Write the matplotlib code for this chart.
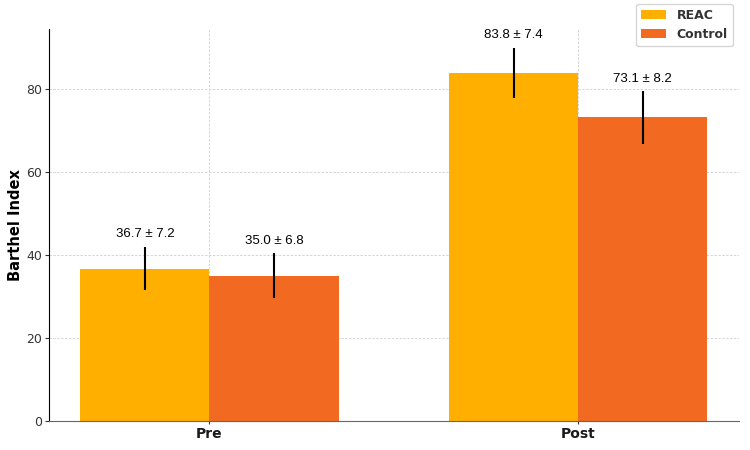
import matplotlib
matplotlib.use("Agg")
from matplotlib import pyplot as plt
import numpy as np

# data
phases = ["Pre", "Post"]
reac_means = [36.7, 83.8]
control_means = [35.0, 73.1]
reac_sd = [7.2, 7.4]
control_sd = [6.8, 8.2]
# drawn error bar half-lengths (as measured on the picture)
reac_err = [5.2, 6.1]
control_err = [5.4, 6.3]

reacColor = "#FFAF00"
controlColor = "#F26A22"

x = np.arange(len(phases))
width = 0.35

fig = plt.figure(figsize=(7.5, 4.5), dpi=100)
ax = fig.add_axes([0.0653, 0.0644, 0.9197, 0.8712])

ax.bar(x - width / 2, reac_means, width, color=reacColor, label="REAC", zorder=2)
ax.bar(x + width / 2, control_means, width, color=controlColor, label="Control", zorder=2)
ax.errorbar(x - width / 2, reac_means, yerr=reac_err, fmt="none", ecolor="black", elinewidth=1.5, zorder=3)
ax.errorbar(x + width / 2, control_means, yerr=control_err, fmt="none", ecolor="black", elinewidth=1.5, zorder=3)

#Value labels above the error bars
for xs, m, sd, e in zip(x - width / 2, reac_means, reac_sd, reac_err):
    ax.text(xs, m + e + 1.6, "{:.1f} ± {:.1f}".format(m, sd), ha="center", va="bottom",
            fontsize=9.5, family="Liberation Sans")
for xs, m, sd, e in zip(x + width / 2, control_means, control_sd, control_err):
    ax.text(xs, m + e + 1.6, "{:.1f} ± {:.1f}".format(m, sd), ha="center", va="bottom",
            fontsize=9.5, family="Liberation Sans")

ax.set_xticks(x)
ax.set_xticklabels(phases, fontsize=10, fontweight="bold")
ax.set_ylabel("Barthel Index", fontsize=10.5, fontweight="bold", labelpad=2)
ax.set_yticks([0, 20, 40, 60, 80])
ax.tick_params(axis="y", labelsize=9, colors="#333333", length=3, pad=2)
ax.tick_params(axis="x", length=2, colors="#333333", pad=2)
for lbl in ax.get_xticklabels():
    lbl.set_color("#1a1a1a")

ax.grid(True, linestyle=(0, (2.5, 1.5)), color="#d5d5d5", linewidth=0.7, zorder=0)
ax.set_axisbelow(True)
ax.spines["top"].set_visible(False)
ax.spines["right"].set_visible(False)
ax.spines["left"].set_color("black")
ax.spines["bottom"].set_color("#666666")

leg = ax.legend(loc="upper right", bbox_to_anchor=(1, 1.08), prop={"weight": "bold", "size": 9},
                handlelength=2.0, frameon=True)
leg.get_frame().set_edgecolor("#cccccc")
for t in leg.get_texts():
    t.set_color("#333333")

fig.savefig("out.png", dpi=100)
